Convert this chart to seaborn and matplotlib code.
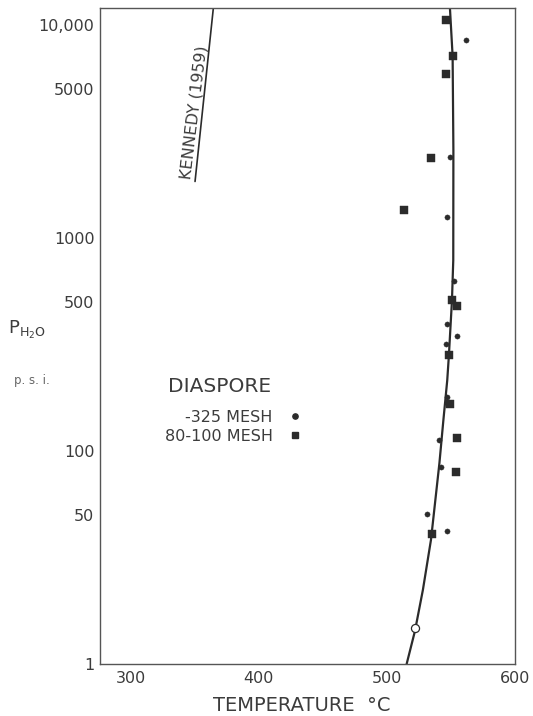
import matplotlib
matplotlib.use("Agg")
import matplotlib.pyplot as plt
from matplotlib.lines import Line2D
from matplotlib.ticker import FixedLocator, NullLocator, FixedFormatter
import pandas as pd
import seaborn as sns

# ---- data ----
fine_T = [561.5, 549.2, 547.3, 552.6, 547.3, 554.8, 545.9, 546.6, 540.4, 542.4, 531.0, 546.6]
fine_P = [8510, 2410, 1250, 628, 394, 347, 318, 180, 113, 84.4, 50.6, 42.3]
coarse_T = [545.9, 551.3, 545.9, 534.2, 513.5, 551.0, 554.5, 548.4, 549.2, 554.5, 554.1, 534.9]
coarse_P = [10540, 7150, 5890, 2380, 1353, 512, 480, 282, 166, 115, 79.6, 40.6]
atm_T = [521.9]
atm_P = [14.7]
curve_T = [515.4, 521.9, 528.1, 534.4, 541.0, 544.1, 547.1, 548.4, 550.8, 551.8, 551.9, 551.3, 549.2]
curve_P = [10, 14.3, 22.3, 38.3, 87.9, 140, 215, 282, 512, 788, 2590, 7150, 12040]
kennedy_T = [350.2, 364.5]
kennedy_P = [1845, 12040]

x_ticks = [300, 400, 500, 600]
x_labels = ["300", "400", "500", "600"]
y_ticks = [10, 50, 100, 500, 1000, 5000, 10000]
y_labels = ["1", "50", "100", "500", "1000", "5000", "10,000"]

legend_title = "DIASPORE"
legend_labels = ["-325 MESH", "80-100 MESH"]

# ---- style ----
sns.set_style("white")
plt.rcParams["font.family"] = ["DejaVu Sans"]
ink = "#2b2b2b"
txt = "#3c3c3c"

fig = plt.figure(figsize=(5.33, 7.16), dpi=100)
ax = fig.add_axes([100 / 533, 1 - 664 / 716, 415 / 533, 656 / 716])
ax.set_yscale("log")

df_fine = pd.DataFrame({"T": fine_T, "P": fine_P})
df_coarse = pd.DataFrame({"T": coarse_T, "P": coarse_P})
df_atm = pd.DataFrame({"T": atm_T, "P": atm_P})
df_curve = pd.DataFrame({"T": curve_T, "P": curve_P})
df_ken = pd.DataFrame({"T": kennedy_T, "P": kennedy_P})

sns.lineplot(data=df_curve, x="T", y="P", sort=False, estimator=None,
             color=ink, linewidth=1.6, ax=ax, zorder=2)
sns.lineplot(data=df_ken, x="T", y="P", sort=False, estimator=None,
             color=ink, linewidth=1.2, ax=ax, zorder=2)
sns.scatterplot(data=df_fine, x="T", y="P", marker="o", s=14, color=ink,
                edgecolor=ink, linewidth=0.3, ax=ax, zorder=3)
sns.scatterplot(data=df_coarse, x="T", y="P", marker="s", s=26, color=ink,
                edgecolor=ink, linewidth=0.3, ax=ax, zorder=3)
sns.scatterplot(data=df_atm, x="T", y="P", marker="o", s=34, color="white",
                edgecolor=ink, linewidth=0.9, ax=ax, zorder=4)

ax.set_xlim(276, 600)
ax.set_ylim(10, 12040)

ax.xaxis.set_major_locator(FixedLocator(x_ticks))
ax.xaxis.set_major_formatter(FixedFormatter(x_labels))
ax.xaxis.set_minor_locator(NullLocator())
ax.yaxis.set_major_locator(FixedLocator(y_ticks))
ax.yaxis.set_major_formatter(FixedFormatter(y_labels))
ax.yaxis.set_minor_locator(NullLocator())

ax.tick_params(axis="both", which="major", direction="in", length=18,
               width=1.0, color="#555555", labelcolor=txt, labelsize=11.5)
ax.tick_params(axis="x", pad=5)
ax.tick_params(axis="y", pad=4)
ax.yaxis.get_major_ticks()[-1].tick1line.set_visible(False)

for sp in ax.spines.values():
    sp.set_visible(True)
    sp.set_color("#555555")
    sp.set_linewidth(1.0)

ax.set_xlabel("TEMPERATURE  °C", fontsize=14, color=txt)
ax.xaxis.set_label_coords(0.487, -0.064)
ax.xaxis.label.set_verticalalignment("center")
ax.set_ylabel("")

fig.text(8 / 533, 1 - 334 / 716, r"$\mathregular{P_{H_2O}}$", fontsize=13,
         color=txt, ha="left", va="baseline")
fig.text(32 / 533, 1 - 380 / 716, "p. s. i.", fontsize=8.5, color="#666666",
         ha="center", va="center")

ax.text(349.4, 3910, "KENNEDY (1959)", rotation=83, rotation_mode="anchor",
        ha="center", va="center", fontsize=11.5, color=txt)

# legend block
fig.text(220 / 533, 1 - 387 / 716, legend_title, fontsize=14.5, color=txt,
         ha="center", va="center")
handles = [Line2D([], [], marker="o", ls="", color=ink, markersize=3.8),
           Line2D([], [], marker="s", ls="", color=ink, markersize=4.8)]
leg = ax.legend(handles, legend_labels, markerfirst=False,
                frameon=False, loc="center right",
                bbox_to_anchor=(299 / 533, 1 - 426.7 / 716),
                bbox_transform=fig.transFigure, fontsize=11.5,
                handlelength=0.5, handletextpad=1.15, labelspacing=0.25,
                borderpad=0, borderaxespad=0)
for t in leg.get_texts():
    t.set_color(txt)
try:
    for col in leg._legend_handle_box.get_children():
        col.align = "right"
except Exception:
    pass

fig.savefig("out.png", dpi=100, facecolor="white")
